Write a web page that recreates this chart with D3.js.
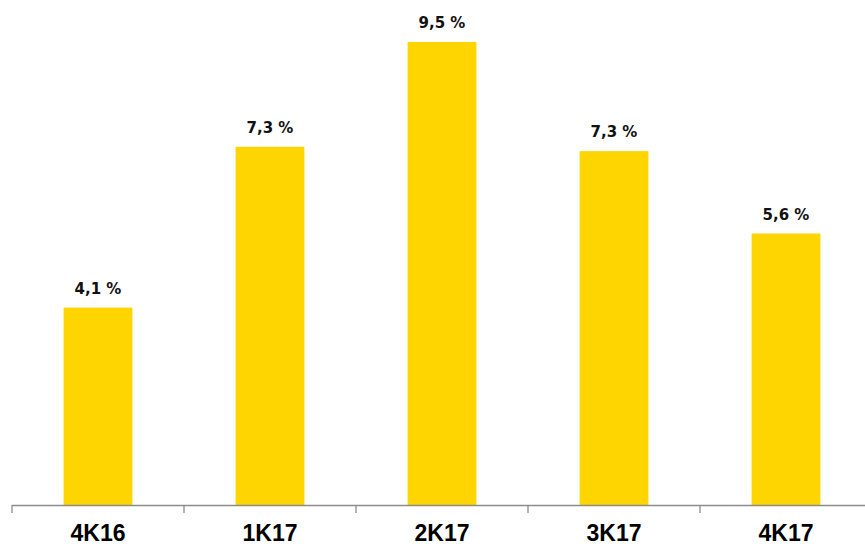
<!DOCTYPE html>
<html>
<head>
<meta charset="utf-8">
<script src="https://cdn.jsdelivr.net/npm/d3@7"></script>
<style>
  html, body { margin: 0; padding: 0; background: #fff; }
  svg { display: block; }
</style>
</head>
<body>
<svg id="chart"></svg>
<script>
// data
let quarters = ["4K16", "1K17", "2K17", "3K17", "4K17"]
let growth = [4.05, 7.35, 9.5, 7.26, 5.57]
let growthLabels = ["4,1 %", "7,3 %", "9,5 %", "7,3 %", "5,6 %"]

let width = 865
let height = 546
let baseline = 505

let svg = d3.select('#chart')
    .attr('width', width)
    .attr('height', height)

let x = d3.scaleBand()
    .domain(quarters)
    .range([12, 872])
    .paddingInner(0.6)
    .paddingOuter(0.3)

let y = d3.scaleLinear()
    .domain([0, 10])
    .range([baseline, baseline - 487.4])

let data = quarters.map((q, i) => ({label: q, value: growth[i], text: growthLabels[i]}))

// BARS
svg.selectAll('.bar')
    .data(data)
    .enter()
    .append('rect')
    .classed('bar', true)
    .attr('x', d => x(d.label))
    .attr('y', d => y(d.value))
    .attr('width', x.bandwidth())
    .attr('height', d => baseline - y(d.value))
    .attr('fill', '#ffd500')

// VALUE LABELS
svg.selectAll('.value')
    .data(data)
    .enter()
    .append('text')
    .classed('value', true)
    .attr('x', d => x(d.label) + x.bandwidth() / 2)
    .attr('y', d => y(d.value) - 14)
    .attr('text-anchor', 'middle')
    .attr('font-family', '"DejaVu Sans", Verdana, sans-serif')
    .attr('font-weight', 'bold')
    .attr('font-size', 15)
    .attr('fill', '#111')
    .text(d => d.text)

// X AXIS (ticks sit on the category boundaries)
let step = x.step()
let axis = svg.append('g').attr('stroke', '#8c8c8c').attr('stroke-width', 1.3)

axis.append('line')
    .attr('x1', x.range()[0])
    .attr('x2', width)
    .attr('y1', baseline + 0.5)
    .attr('y2', baseline + 0.5)

axis.selectAll('.tick')
    .data(quarters)
    .enter()
    .append('line')
    .classed('tick', true)
    .attr('x1', d => x(d) - x.paddingOuter() * step)
    .attr('x2', d => x(d) - x.paddingOuter() * step)
    .attr('y1', baseline)
    .attr('y2', baseline + 8)

// CATEGORY LABELS
svg.selectAll('.cat')
    .data(quarters)
    .enter()
    .append('text')
    .classed('cat', true)
    .attr('x', d => x(d) + x.bandwidth() / 2)
    .attr('y', 541)
    .attr('text-anchor', 'middle')
    .attr('font-family', '"Liberation Sans", Arial, sans-serif')
    .attr('font-weight', 'bold')
    .attr('font-size', 23)
    .attr('fill', '#000')
    .text(d => d)
</script>
</body>
</html>
